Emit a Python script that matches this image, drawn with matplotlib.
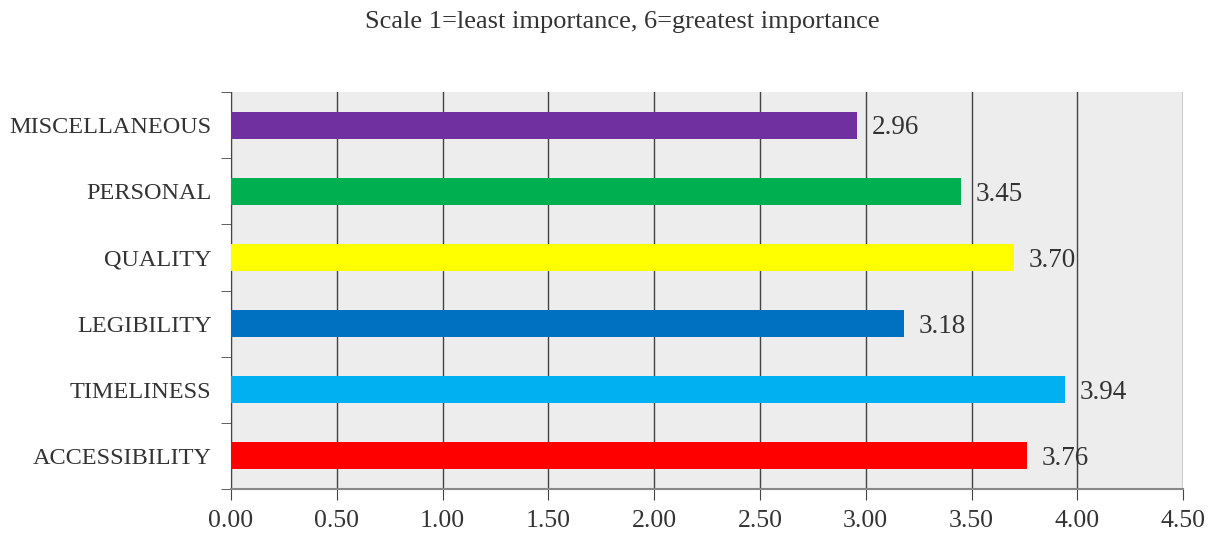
import matplotlib.pyplot as plt

categories = ["ACCESSIBILITY", "TIMELINESS", "LEGIBILITY", "QUALITY", "PERSONAL", "MISCELLANEOUS"]
scores = [3.76, 3.94, 3.18, 3.70, 3.45, 2.96]
colors = ["#FF0000", "#00B0F0", "#0070C0", "#FFFF00", "#00B050", "#7030A0"]
xticks = [0.0, 0.5, 1.0, 1.5, 2.0, 2.5, 3.0, 3.5, 4.0, 4.5]

plt.rcParams["font.family"] = ["Liberation Serif", "DejaVu Serif"]

fig = plt.figure(figsize=(12.16, 5.33), dpi=100)
ax = fig.add_axes([0.19, 0.0826, 0.783, 0.7444])
ax.set_facecolor("#EDEDED")

ypos = range(len(categories))
ax.barh(ypos, scores, height=0.41, color=colors, zorder=3)
for y, v in zip(ypos, scores):
    ax.text(v + 0.07, y - 0.04, f"{v:.2f}", va="center", ha="left",
            fontsize=19.5, color="#333333", zorder=4)

ax.set_xlim(0, 4.5)
ax.set_ylim(-0.5, len(categories) - 0.5)
ax.set_xticks(xticks)
ax.set_xticklabels([f"{t:.2f}" for t in xticks], fontsize=18.5, color="#333333")
ax.set_yticks(list(ypos))
ax.set_yticklabels(categories, fontsize=17.5, color="#333333")
ax.tick_params(axis="y", length=0, pad=14)
ax.set_yticks([i - 0.5 for i in range(len(categories) + 1)], minor=True)
ax.tick_params(axis="y", which="minor", length=7, color="#444444")
ax.tick_params(axis="x", length=8, color="#444444", pad=7)

ax.grid(axis="x", color="#444444", linewidth=1.0, zorder=1)
for side in ["top", "right"]:
    ax.spines[side].set_visible(False)
ax.spines["left"].set_color("#444444")
ax.spines["bottom"].set_color("#888888")
ax.spines["bottom"].set_linewidth(1.5)

fig.text(0.512, 0.958, "Scale 1=least importance, 6=greatest importance",
         ha="center", va="center", fontsize=19, color="#333333")

fig.savefig("out.png", dpi=100)
